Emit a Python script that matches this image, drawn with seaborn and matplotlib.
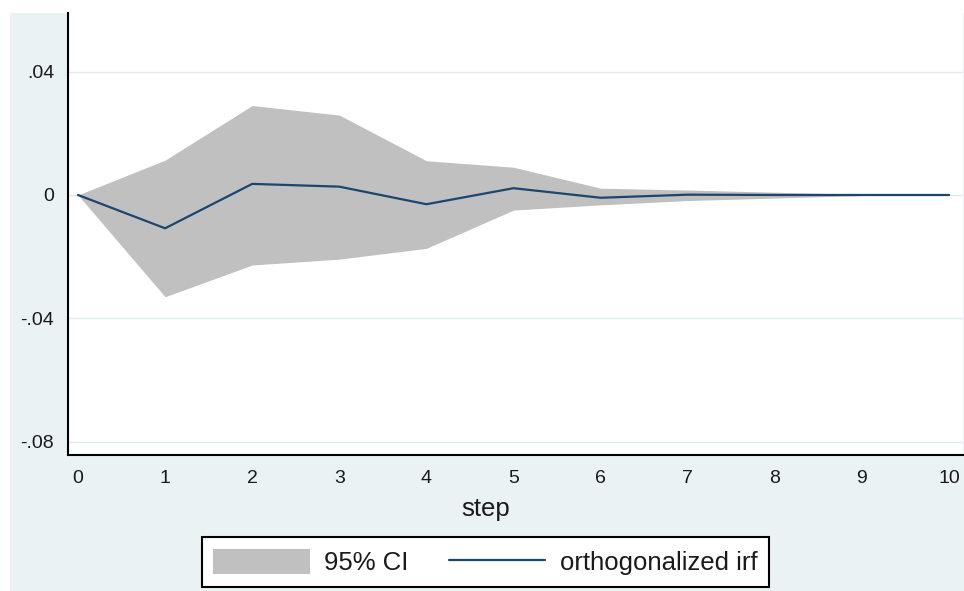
import matplotlib
matplotlib.use("Agg")
import matplotlib.pyplot as plt
import seaborn as sns
import pandas as pd
from matplotlib.patches import Patch, Rectangle
from matplotlib.lines import Line2D
from matplotlib.ticker import FuncFormatter

steps = [0, 1, 2, 3, 4, 5, 6, 7, 8, 9, 10]
irf = [0.0, -0.0108, 0.0036, 0.0027, -0.0030, 0.0022, -0.0009, 0.0001, 0.0, 0.0, 0.0]
ci_upper = [0.0, 0.0113, 0.0290, 0.0259, 0.0111, 0.0090, 0.0022, 0.0016, 0.0009, 0.0002, 0.0001]
ci_lower = [0.0, -0.0330, -0.0227, -0.0208, -0.0173, -0.0049, -0.0032, -0.0018, -0.0010, -0.0002, 0.0]
yticks = [-0.08, -0.04, 0.0, 0.04]
xticks = list(range(0, 11))

df = pd.DataFrame({"step": steps, "irf": irf, "lo": ci_lower, "hi": ci_upper})

sns.set_theme(style="white")
plt.rcParams["font.family"] = ["Liberation Sans", "DejaVu Sans"]

BG = "#EAF2F3"
NAVY = "#1A476F"
GRAY = "#C0C0C0"
TXT = "#1a1a1a"

fig = plt.figure(figsize=(9.64, 5.91), dpi=100)
fig.patch.set_facecolor("white")
fig.patches.append(Rectangle((10 / 964, 0), 954 / 964, (591 - 13) / 591,
                             transform=fig.transFigure, facecolor=BG,
                             edgecolor="none", zorder=-10))

ax = fig.add_axes([68 / 964, (591 - 455) / 591, (963 - 68) / 964, (455 - 13) / 591])
ax.set_facecolor("white")

for y in yticks:
    ax.axhline(y, color="#E0EBEE", lw=1.0, zorder=0)

ax.fill_between(df["step"], df["lo"], df["hi"], color=GRAY, lw=0, zorder=1)
sns.lineplot(data=df, x="step", y="irf", ax=ax, color=NAVY, lw=1.6, zorder=2)

ax.set_xlim(-0.115, 10.16)
ax.set_ylim(-0.0843, 0.059)
ax.set_xticks(xticks)
ax.set_yticks(yticks)

def yfmt(v, pos):
    if abs(v) < 1e-12:
        return "0"
    return f"{v:.2f}".replace("0.", ".")

ax.yaxis.set_major_formatter(FuncFormatter(yfmt))
ax.tick_params(axis="both", which="major", direction="out", width=1.2,
               color="black", labelsize=14, labelcolor=TXT)
ax.tick_params(axis="y", length=6.5, pad=3.5)
ax.tick_params(axis="x", length=5, pad=6)

for side in ["top", "right"]:
    ax.spines[side].set_visible(False)
for side in ["left", "bottom"]:
    ax.spines[side].set_color("black")
    ax.spines[side].set_linewidth(1.5)

ax.set_xlabel("step", fontsize=18.5, color=TXT, va="top")
ax.xaxis.set_label_coords((486 - 68) / 895, -(497 - 455) / 442)
ax.set_ylabel("")

handles = [Patch(facecolor=GRAY, edgecolor="none"),
           Line2D([0], [0], color=NAVY, lw=1.6)]
leg = fig.legend(handles, ["95% CI", "orthogonalized irf"], loc="center",
                 bbox_to_anchor=(485.5 / 964, (591 - 562) / 591), ncol=2,
                 fontsize=18.5, frameon=True, fancybox=False, handlelength=3.75,
                 handleheight=1.13, columnspacing=1.56, handletextpad=0.58,
                 borderpad=0.45)
for t in leg.get_texts():
    t.set_color(TXT)
leg.get_frame().set_edgecolor("black")
leg.get_frame().set_linewidth(1.5)
leg.get_frame().set_facecolor("white")
leg.get_frame().set_alpha(1)

fig.savefig("out.png", dpi=100, facecolor=fig.get_facecolor())
